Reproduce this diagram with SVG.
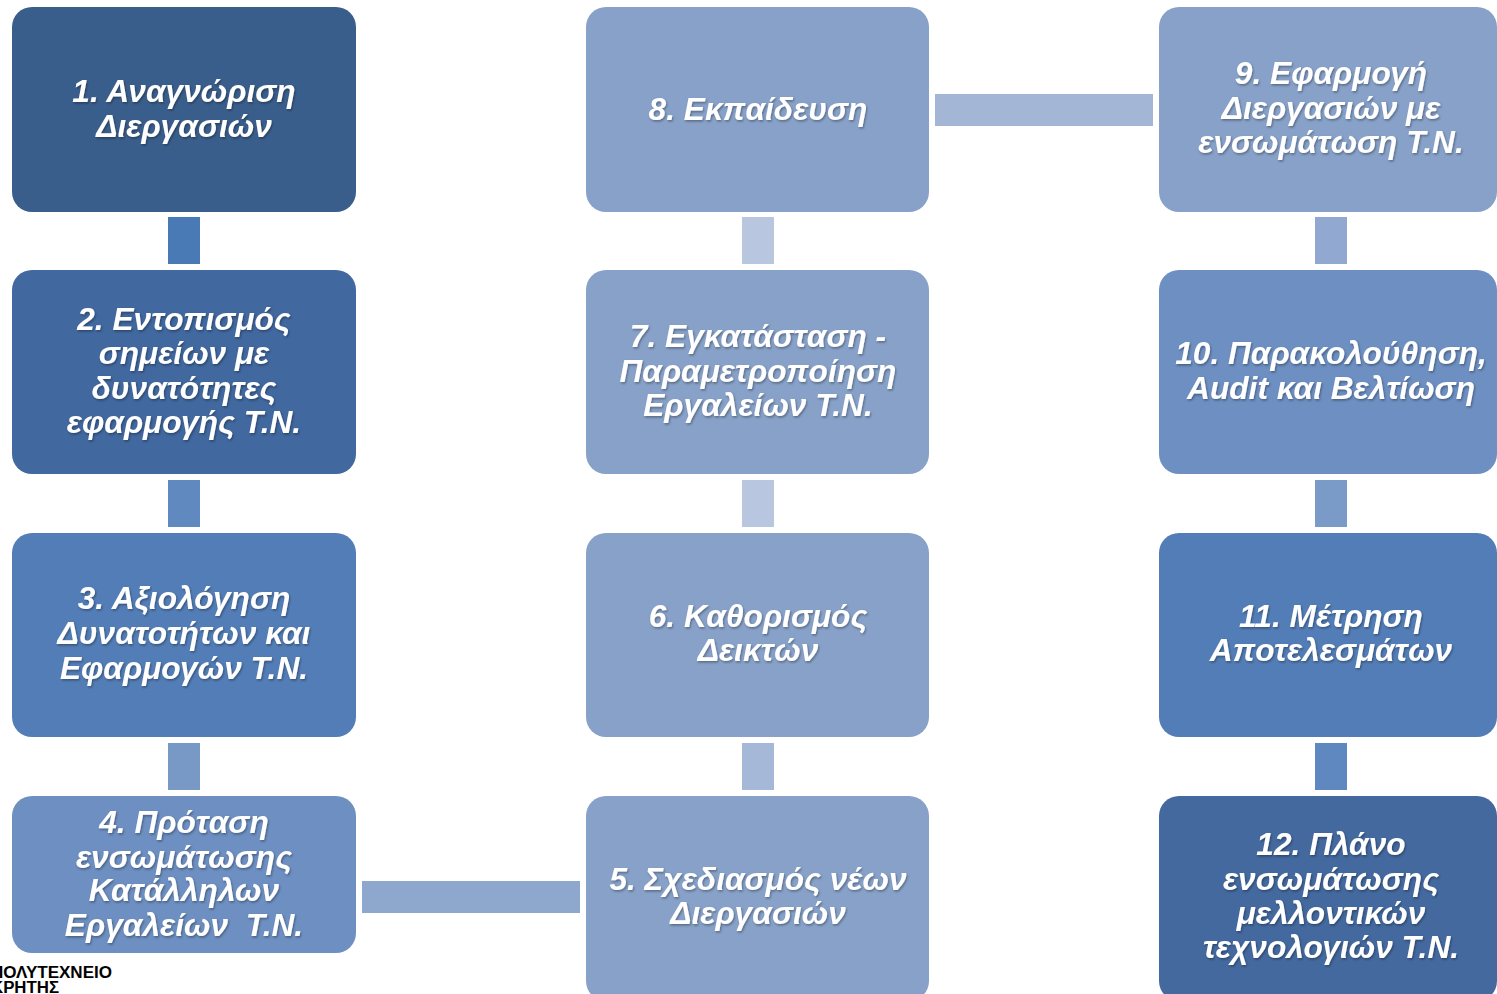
<svg xmlns="http://www.w3.org/2000/svg" width="1497" height="994" viewBox="0 0 1497 994">
<defs>
<style>
.lbl{font-family:"Liberation Sans",Arial,sans-serif;font-weight:bold;font-style:italic;font-size:31.7px;fill:#ffffff;text-anchor:middle;filter:url(#sh)}
.logo{font-family:"Liberation Sans",Arial,sans-serif;font-weight:bold;font-size:16px;fill:#000000}
</style>
<filter id="sh" x="-10%" y="-30%" width="120%" height="160%">
<feDropShadow dx="1" dy="1.5" stdDeviation="1" flood-color="#000000" flood-opacity="0.35"/>
</filter>
</defs>
<rect width="1497" height="994" fill="#ffffff"/>
<g id="connectors">
<rect x="168" y="217" width="32" height="47" fill="#4a7ab5"/>
<rect x="168" y="480" width="32" height="47" fill="#5f89bf"/>
<rect x="168" y="743" width="32" height="47" fill="#7898c6"/>
<rect x="362" y="881" width="218" height="32" fill="#8ea8cd"/>
<rect x="742" y="743" width="32" height="47" fill="#a5b8d8"/>
<rect x="742" y="480" width="32" height="47" fill="#b9c6df"/>
<rect x="742" y="217" width="32" height="47" fill="#b9c6df"/>
<rect x="935" y="94" width="218" height="32" fill="#a3b6d6"/>
<rect x="1315" y="217" width="32" height="47" fill="#91a9d0"/>
<rect x="1315" y="480" width="32" height="47" fill="#7a9ac8"/>
<rect x="1315" y="743" width="32" height="47" fill="#6088c0"/>
</g>
<g id="node1">
<rect x="12" y="7" width="344" height="205" rx="20" fill="#3a5e8b"/>
<text class="lbl" x="184" y="102">1. Αναγνώριση</text>
<text class="lbl" x="184" y="137">Διεργασιών</text>
</g>
<g id="node2">
<rect x="12" y="270" width="344" height="204" rx="20" fill="#41689f"/>
<text class="lbl" x="184" y="330">2. Εντοπισμός</text>
<text class="lbl" x="184" y="364">σημείων με</text>
<text class="lbl" x="184" y="399">δυνατότητες</text>
<text class="lbl" x="184" y="433">εφαρμογής Τ.Ν.</text>
</g>
<g id="node3">
<rect x="12" y="533" width="344" height="204" rx="20" fill="#537db6"/>
<text class="lbl" x="184" y="609">3. Αξιολόγηση</text>
<text class="lbl" x="184" y="644">Δυνατοτήτων και</text>
<text class="lbl" x="184" y="679">Εφαρμογών Τ.Ν.</text>
</g>
<g id="node4">
<rect x="12" y="796" width="344" height="157" rx="20" fill="#6d8fc1"/>
<text class="lbl" x="184" y="833">4. Πρόταση</text>
<text class="lbl" x="184" y="868">ενσωμάτωσης</text>
<text class="lbl" x="184" y="901">Κατάλληλων</text>
<text class="lbl" x="184" y="936" xml:space="preserve">Εργαλείων  Τ.Ν.</text>
</g>
<g id="node5">
<rect x="586" y="796" width="343" height="205" rx="20" fill="#87a1c8"/>
<text class="lbl" x="758" y="890">5. Σχεδιασμός νέων</text>
<text class="lbl" x="758" y="924">Διεργασιών</text>
</g>
<g id="node6">
<rect x="586" y="533" width="343" height="204" rx="20" fill="#87a1c8"/>
<text class="lbl" x="758" y="627">6. Καθορισμός</text>
<text class="lbl" x="758" y="661">Δεικτών</text>
</g>
<g id="node7">
<rect x="586" y="270" width="343" height="204" rx="20" fill="#87a1c8"/>
<text class="lbl" x="758" y="347">7. Εγκατάσταση -</text>
<text class="lbl" x="758" y="382">Παραμετροποίηση</text>
<text class="lbl" x="758" y="416">Εργαλείων Τ.Ν.</text>
</g>
<g id="node8">
<rect x="586" y="7" width="343" height="205" rx="20" fill="#87a1c8"/>
<text class="lbl" x="758" y="120">8. Εκπαίδευση</text>
</g>
<g id="node9">
<rect x="1159" y="7" width="338" height="205" rx="20" fill="#87a1c8"/>
<text class="lbl" x="1331" y="84">9. Εφαρμογή</text>
<text class="lbl" x="1331" y="119">Διεργασιών με</text>
<text class="lbl" x="1331" y="153">ενσωμάτωση Τ.Ν.</text>
</g>
<g id="node10">
<rect x="1159" y="270" width="338" height="204" rx="20" fill="#6d8fc1"/>
<text class="lbl" x="1331" y="364">10. Παρακολούθηση,</text>
<text class="lbl" x="1331" y="399">Audit και Βελτίωση</text>
</g>
<g id="node11">
<rect x="1159" y="533" width="338" height="204" rx="20" fill="#537db6"/>
<text class="lbl" x="1331" y="627">11. Μέτρηση</text>
<text class="lbl" x="1331" y="661">Αποτελεσμάτων</text>
</g>
<g id="node12">
<rect x="1159" y="796" width="338" height="205" rx="20" fill="#44699f"/>
<text class="lbl" x="1331" y="855">12. Πλάνο</text>
<text class="lbl" x="1331" y="890">ενσωμάτωσης</text>
<text class="lbl" x="1331" y="924">μελλοντικών</text>
<text class="lbl" x="1331" y="958">τεχνολογιών Τ.Ν.</text>
</g>
<g id="logo">
<text class="logo" x="-9" y="978" textLength="121" lengthAdjust="spacingAndGlyphs">ΠΟΛΥΤΕΧΝΕΙΟ</text>
<text class="logo" x="-9" y="993" textLength="68" lengthAdjust="spacingAndGlyphs">ΚΡΗΤΗΣ</text>
</g>
</svg>
